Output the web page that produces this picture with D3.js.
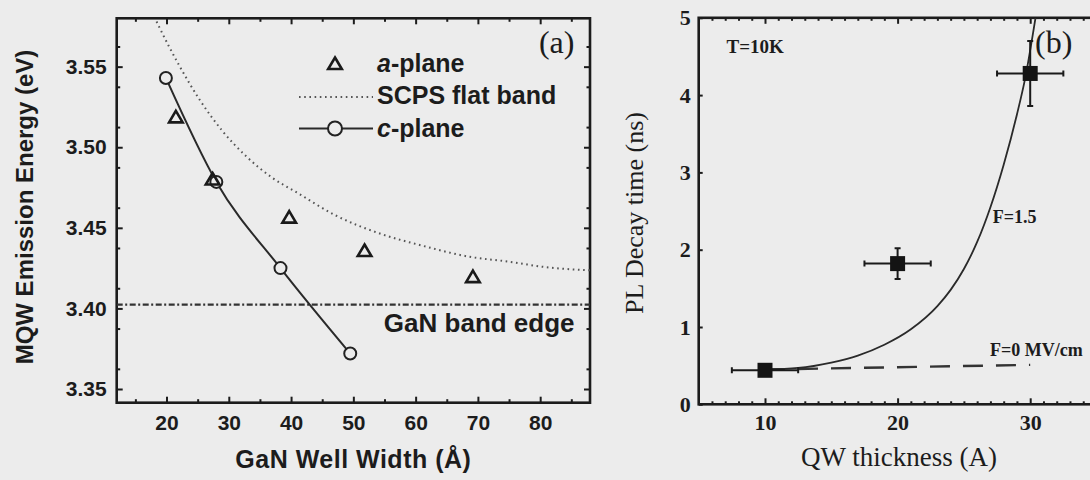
<!DOCTYPE html>
<html>
<head>
<meta charset="utf-8">
<script src="https://cdnjs.cloudflare.com/ajax/libs/d3/7.8.5/d3.min.js"></script>
<style>
  body { margin: 0; background: #ececec; }
  svg { display: block; }
</style>
</head>
<body>
<div class="chartContainer"></div>
<script>
// ---- panel (a) data ----
const aPlaneWidth = [21.5, 27.4, 39.7, 51.8, 69.2];
const aPlaneEnergy = [3.5185, 3.480, 3.4563, 3.4356, 3.4194];
const cPlaneWidth = [19.9, 28.0, 38.3, 49.5];
const cPlaneEnergy = [3.543, 3.4785, 3.425, 3.372];
const scpsWidth = [18.4, 18.9, 22, 25.4, 29, 32.9, 37, 40.9, 47, 54.6, 61, 68.7, 75, 80.9, 88];
const scpsEnergy = [3.578, 3.574, 3.551, 3.529, 3.510, 3.494, 3.481, 3.472, 3.458, 3.446, 3.439, 3.432, 3.429, 3.4256, 3.4236];
const bandEdgeEnergy = 3.4024;
const aTicksX = [20, 30, 40, 50, 60, 70, 80];
const aTicksY = [3.35, 3.40, 3.45, 3.50, 3.55];

// ---- panel (b) data ----
const qwThickness = [10, 20, 30];
const decayTime = [0.44, 1.82, 4.28];
const thicknessErr = [2.5, 2.5, 2.5];
const decayErr = [0.05, 0.2, 0.42];
const fitThickness = [10, 12.5, 15, 17, 19, 21, 23, 24, 25, 26, 27, 28, 29, 29.6, 30.4];
const fitTime = [0.45, 0.47, 0.54, 0.63, 0.77, 0.97, 1.27, 1.48, 1.75, 2.1, 2.55, 3.1, 3.75, 4.2, 5.0];
const zeroFieldThickness = [10, 30];
const zeroFieldTime = [0.45, 0.51];
const bTicksX = [10, 20, 30];
const bTicksY = [0, 1, 2, 3, 4, 5];

const sans = 'Liberation Sans, Arial, sans-serif';
const serif = 'Liberation Serif, Times New Roman, serif';
const ink = '#1c1c1c';

const svg = d3.select('.chartContainer')
              .append('svg')
                .attr('width', 1090)
                .attr('height', 480);

// helper: inward ticks, no domain line
function tickAxis(axis, size, values, labels) {
    axis.tickValues(values).tickSize(-size);
    if (!labels) axis.tickFormat('');
    return (g) => {
        g.call(axis);
        g.select('.domain').remove();
        g.selectAll('line').attr('stroke', ink).attr('stroke-width', 2);
    };
}

// =================== panel (a) ===================
const xA = d3.scaleLinear().domain([12, 88]).range([116.7, 590]);
const yA = d3.scaleLinear().domain([3.3415, 3.580]).range([402.7, 18.3]);
const aMinorX = d3.range(15, 90, 5).filter(v => v % 10 !== 0);
const aMinorY = d3.range(0, 10).map(i => 3.3375 + i * 0.025).filter(v => v > 3.3415 && v < 3.58);

svg.append('clipPath').attr('id', 'clipA')
   .append('rect').attr('x', xA(12)).attr('y', yA(3.58)).attr('width', xA(88) - xA(12)).attr('height', yA(3.3415) - yA(3.58));

const gA = svg.append('g');

// bottom / top
gA.append('g').attr('transform', `translate(0, ${yA(3.3415)})`)
  .call(tickAxis(d3.axisBottom(xA).tickPadding(12).tickFormat(d3.format('d')), 6, aTicksX, true));
gA.append('g').attr('transform', `translate(0, ${yA(3.3415)})`)
  .call(tickAxis(d3.axisBottom(xA), 3.5, aMinorX, false));
gA.append('g').attr('transform', `translate(0, ${yA(3.58)})`)
  .call(tickAxis(d3.axisTop(xA), 6, aTicksX, false));
gA.append('g').attr('transform', `translate(0, ${yA(3.58)})`)
  .call(tickAxis(d3.axisTop(xA), 3.5, aMinorX, false));
// left / right
gA.append('g').attr('transform', `translate(${xA(12)}, 0)`)
  .call(tickAxis(d3.axisLeft(yA).tickPadding(10).tickFormat(d3.format('.2f')), 6, aTicksY, true));
gA.append('g').attr('transform', `translate(${xA(12)}, 0)`)
  .call(tickAxis(d3.axisLeft(yA), 3.5, aMinorY, false));
gA.append('g').attr('transform', `translate(${xA(88)}, 0)`)
  .call(tickAxis(d3.axisRight(yA), 6, aTicksY, false));
gA.append('g').attr('transform', `translate(${xA(88)}, 0)`)
  .call(tickAxis(d3.axisRight(yA), 3.5, aMinorY, false));

gA.selectAll('.tick text')
  .attr('font-family', sans).attr('font-weight', 'bold').attr('font-size', 21).attr('fill', ink);

// frame
gA.append('rect')
  .attr('x', xA(12)).attr('y', yA(3.58))
  .attr('width', xA(88) - xA(12)).attr('height', yA(3.3415) - yA(3.58))
  .attr('fill', 'none').attr('stroke', ink).attr('stroke-width', 2.6);

const plotA = gA.append('g').attr('clip-path', 'url(#clipA)');

// GaN band edge (dash-dot)
plotA.append('line')
  .attr('x1', xA(12)).attr('x2', xA(88))
  .attr('y1', yA(bandEdgeEnergy)).attr('y2', yA(bandEdgeEnergy))
  .attr('stroke', '#333').attr('stroke-width', 2.2)
  .attr('stroke-dasharray', '6,2.5,2,2.5');

// SCPS flat band (dotted)
const scpsLine = d3.line().x(d => xA(d[0])).y(d => yA(d[1])).curve(d3.curveMonotoneX);
plotA.append('path')
  .datum(d3.zip(scpsWidth, scpsEnergy))
  .attr('d', scpsLine)
  .attr('fill', 'none').attr('stroke', '#555').attr('stroke-width', 2)
  .attr('stroke-dasharray', '1.6,3.6');

// c-plane line + circles
plotA.append('path')
  .datum(d3.zip(cPlaneWidth, cPlaneEnergy))
  .attr('d', scpsLine)
  .attr('fill', 'none').attr('stroke', '#2a2a2a').attr('stroke-width', 2);
plotA.selectAll('.cpt')
  .data(d3.zip(cPlaneWidth, cPlaneEnergy))
  .enter().append('circle')
    .attr('cx', d => xA(d[0])).attr('cy', d => yA(d[1])).attr('r', 6)
    .attr('fill', '#ececec').attr('stroke', '#222').attr('stroke-width', 2);

// a-plane triangles
const tri = 'M0,-6.5 L6.8,5 L-6.8,5 Z';
plotA.selectAll('.apt')
  .data(d3.zip(aPlaneWidth, aPlaneEnergy))
  .enter().append('path')
    .attr('d', tri)
    .attr('transform', d => `translate(${xA(d[0])}, ${yA(d[1])})`)
    .attr('fill', 'none').attr('stroke', '#1a1a1a').attr('stroke-width', 2.6);

// legend
const legend = gA.append('g').attr('transform', 'translate(299, 0)');
legend.append('path').attr('d', tri).attr('transform', 'translate(36, 64)')
      .attr('fill', 'none').attr('stroke', '#1a1a1a').attr('stroke-width', 2.6);
legend.append('line').attr('x1', 0).attr('x2', 74).attr('y1', 97).attr('y2', 97)
      .attr('stroke', '#555').attr('stroke-width', 2).attr('stroke-dasharray', '1.6,3.6');
legend.append('line').attr('x1', 0).attr('x2', 74).attr('y1', 128.5).attr('y2', 128.5)
      .attr('stroke', '#2a2a2a').attr('stroke-width', 2);
legend.append('circle').attr('cx', 36).attr('cy', 128.5).attr('r', 7)
      .attr('fill', '#ececec').attr('stroke', '#222').attr('stroke-width', 2);

const legendText = legend.append('g')
      .attr('font-family', sans).attr('font-weight', 'bold').attr('font-size', 25).attr('fill', ink);
const t1 = legendText.append('text').attr('x', 78).attr('y', 72);
t1.append('tspan').attr('font-style', 'italic').text('a');
t1.append('tspan').text('-plane');
legendText.append('text').attr('x', 78).attr('y', 104).text('SCPS flat band');
const t3 = legendText.append('text').attr('x', 78).attr('y', 137);
t3.append('tspan').attr('font-style', 'italic').text('c');
t3.append('tspan').text('-plane');

// annotations
gA.append('text')
  .attr('x', xA(54.9)).attr('y', yA(3.3856))
  .attr('font-family', sans).attr('font-weight', 'bold').attr('font-size', 26).attr('fill', ink)
  .text('GaN band edge');
gA.append('text')
  .attr('x', xA(79.8)).attr('y', 53)
  .attr('font-family', serif).attr('font-size', 32).attr('fill', ink)
  .text('(a)');

// axis titles
gA.append('text')
  .attr('x', (xA(12) + xA(88)) / 2).attr('y', 468)
  .attr('text-anchor', 'middle')
  .attr('font-family', sans).attr('font-weight', 'bold').attr('font-size', 25)
  .attr('letter-spacing', 0.5).attr('fill', ink)
  .text('GaN Well Width (Å)');
gA.append('text')
  .attr('transform', 'translate(33, 207) rotate(-90)')
  .attr('text-anchor', 'middle')
  .attr('font-family', sans).attr('font-weight', 'bold').attr('font-size', 24).attr('fill', ink)
  .text('MQW Emission Energy (eV)');

// =================== panel (b) ===================
const xB = d3.scaleLinear().domain([5, 40]).range([698.7, 1162.8]);
const yB = d3.scaleLinear().domain([0, 5]).range([404.3, 17.8]);
const bMinorX = d3.range(6, 40, 1).filter(v => v % 10 !== 0);

svg.append('clipPath').attr('id', 'clipB')
   .append('rect').attr('x', xB(5)).attr('y', yB(5)).attr('width', xB(40) - xB(5)).attr('height', yB(0) - yB(5));

const gB = svg.append('g');

gB.append('g').attr('transform', `translate(0, ${yB(0)})`)
  .call(tickAxis(d3.axisBottom(xB).tickPadding(10).tickFormat(d3.format('d')), 6, bTicksX, true));
gB.append('g').attr('transform', `translate(0, ${yB(0)})`)
  .call(tickAxis(d3.axisBottom(xB), 3, bMinorX, false));
gB.append('g').attr('transform', `translate(0, ${yB(5)})`)
  .call(tickAxis(d3.axisTop(xB), 6, bTicksX, false));
gB.append('g').attr('transform', `translate(0, ${yB(5)})`)
  .call(tickAxis(d3.axisTop(xB), 3, bMinorX, false));
gB.append('g').attr('transform', `translate(${xB(5)}, 0)`)
  .call(tickAxis(d3.axisLeft(yB).tickPadding(8).tickFormat(d3.format('d')), 4, bTicksY, true));

gB.selectAll('.tick text')
  .attr('font-family', serif).attr('font-weight', 'bold').attr('font-size', 22).attr('fill', ink);

gB.append('rect')
  .attr('x', xB(5)).attr('y', yB(5))
  .attr('width', xB(40) - xB(5)).attr('height', yB(0) - yB(5))
  .attr('fill', 'none').attr('stroke', ink).attr('stroke-width', 2.6);

const plotB = gB.append('g').attr('clip-path', 'url(#clipB)');
const lineB = d3.line().x(d => xB(d[0])).y(d => yB(d[1])).curve(d3.curveMonotoneX);

// F=0 dashed line
plotB.append('path')
  .datum(d3.zip(zeroFieldThickness, zeroFieldTime))
  .attr('d', lineB)
  .attr('fill', 'none').attr('stroke', '#333').attr('stroke-width', 2.4)
  .attr('stroke-dasharray', '20,13');

// F=1.5 fit curve
plotB.append('path')
  .datum(d3.zip(fitThickness, fitTime))
  .attr('d', lineB)
  .attr('fill', 'none').attr('stroke', '#2a2a2a').attr('stroke-width', 1.8);

// error bars + squares
const pts = qwThickness.map((t, i) => ({ x: t, y: decayTime[i], ex: thicknessErr[i], ey: decayErr[i] }));
const eb = plotB.selectAll('.eb').data(pts).enter().append('g').attr('stroke', '#1a1a1a').attr('stroke-width', 2);
eb.append('line')
  .attr('x1', d => xB(d.x - d.ex)).attr('x2', d => xB(d.x + d.ex))
  .attr('y1', d => yB(d.y)).attr('y2', d => yB(d.y));
eb.append('line')
  .attr('x1', d => xB(d.x)).attr('x2', d => xB(d.x))
  .attr('y1', d => yB(d.y - d.ey)).attr('y2', d => yB(d.y + d.ey));
eb.selectAll('.capx').data(d => [[d.x - d.ex, d.y], [d.x + d.ex, d.y]]).enter().append('line')
  .attr('x1', d => xB(d[0])).attr('x2', d => xB(d[0]))
  .attr('y1', d => yB(d[1]) - 3).attr('y2', d => yB(d[1]) + 3);
eb.selectAll('.capy').data(d => [[d.x, d.y - d.ey], [d.x, d.y + d.ey]]).enter().append('line')
  .attr('x1', d => xB(d[0]) - 3).attr('x2', d => xB(d[0]) + 3)
  .attr('y1', d => yB(d[1])).attr('y2', d => yB(d[1]));
plotB.selectAll('.sq').data(pts).enter().append('rect')
  .attr('x', d => xB(d.x) - 7.5).attr('y', d => yB(d.y) - 7.5)
  .attr('width', 15).attr('height', 15)
  .attr('fill', '#141414');

// annotations
const noteB = gB.append('g').attr('font-family', serif).attr('fill', ink);
noteB.append('text').attr('x', xB(7.1)).attr('y', yB(4.54))
     .attr('font-weight', 'bold').attr('font-size', 19).text('T=10K');
noteB.append('text').attr('x', xB(27.17)).attr('y', yB(2.34))
     .attr('font-weight', 'bold').attr('font-size', 18).text('F=1.5');
noteB.append('text').attr('x', xB(26.97)).attr('y', yB(0.625))
     .attr('font-weight', 'bold').attr('font-size', 18).text('F=0 MV/cm');
noteB.append('text').attr('x', xB(30.36)).attr('y', 53)
     .attr('font-size', 32).text('(b)');

gB.append('text')
  .attr('x', 899).attr('y', 466)
  .attr('text-anchor', 'middle')
  .attr('font-family', serif).attr('font-size', 27).attr('fill', ink)
  .text('QW thickness (A)');
gB.append('text')
  .attr('transform', 'translate(643, 213) rotate(-90)')
  .attr('text-anchor', 'middle')
  .attr('font-family', serif).attr('font-size', 26).attr('fill', ink)
  .text('PL Decay time (ns)');
</script>
</body>
</html>
